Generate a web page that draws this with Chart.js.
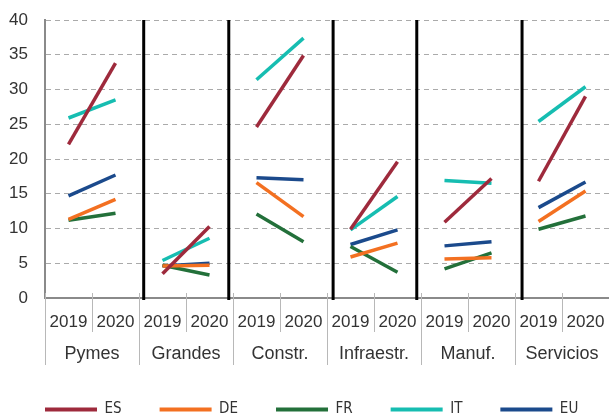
<!DOCTYPE html>
<html>
<head>
<meta charset="utf-8">
<script src="https://cdn.jsdelivr.net/npm/chart.js@4/dist/chart.umd.min.js"></script>
<style>
html,body{margin:0;padding:0;background:#fff;overflow:hidden;}
#wrap{position:relative;width:640px;height:427px;}
</style>
</head>
<body>
<div id="wrap"><canvas id="c"></canvas></div>
<script>
const groups = ['Pymes','Grandes','Constr.','Infraestr.','Manuf.','Servicios'];
const years = ['2019','2020'];
const yTicks = [0,5,10,15,20,25,30,35,40];
const seriesNames = ['ES','DE','FR','IT','EU'];
const ES = [22.1,33.8, 3.5,10.3, 24.6,34.9, 9.9,19.6, 10.9,17.2, 16.8,29.0];
const DE = [11.3,14.2, 4.6,4.7, 16.6,11.7, 5.9,7.9, 5.6,5.8, 11.0,15.4];
const FR = [11.2,12.2, 4.7,3.3, 12.1,8.1, 7.4,3.7, 4.2,6.5, 9.9,11.8];
const IT = [25.9,28.5, 5.4,8.6, 31.4,37.4, 9.8,14.6, 16.9,16.5, 25.4,30.4];
const EU = [14.7,17.7, 4.6,5.0, 17.3,17.0, 7.7,9.8, 7.5,8.1, 13.0,16.7];

const colors = ['#9e2a3c','#f37021','#23703a','#16bdb1','#1b4a8c'];
const seriesData = [ES, DE, FR, IT, EU];

const labels = [];
groups.forEach(() => years.forEach(y => labels.push(y)));

const datasets = seriesNames.map((n, i) => ({
  label: n,
  data: seriesData[i],
  borderColor: colors[i],
  backgroundColor: colors[i],
  borderWidth: 3.5,
  pointRadius: 0,
  pointHoverRadius: 0,
  tension: 0,
  segment: {
    borderColor: ctx => (ctx.p0DataIndex % 2 === 1 ? 'rgba(0,0,0,0)' : undefined)
  }
}));

const groupPlugin = {
  id: 'groupPlugin',
  afterDraw(chart) {
    const ctx = chart.ctx;
    const xs = chart.scales.x;
    const area = chart.chartArea;
    const b = area.bottom;
    const n = labels.length;
    ctx.save();
    ctx.strokeStyle = '#b8b8b8';
    ctx.lineWidth = 1;
    for (let i = -1; i < n; i++) {
      const x = Math.round(xs.getPixelForValue(i + 0.5)) + 0.5;
      const isGroup = (i + 1) % 2 === 0;
      ctx.beginPath();
      ctx.moveTo(x, b - 5);
      ctx.lineTo(x, isGroup ? b + 67 : b + 34);
      ctx.stroke();
    }
    ctx.fillStyle = '#333';
    ctx.font = '18px "Liberation Sans", Arial, sans-serif';
    ctx.textAlign = 'center';
    ctx.textBaseline = 'middle';
    groups.forEach((g, gi) => {
      const x = xs.getPixelForValue(gi * 2 + 0.5);
      ctx.fillText(g, x, b + 56);
    });
    const offs = [0.1, -0.09, 0.13, -0.09, 0.15];
    ctx.strokeStyle = '#000';
    ctx.lineWidth = 3;
    for (let g = 0; g < groups.length - 1; g++) {
      const x = xs.getPixelForValue(g * 2 + 1.5 + offs[g]);
      ctx.beginPath();
      ctx.moveTo(x, area.top);
      ctx.lineTo(x, b + 2);
      ctx.stroke();
    }
    ctx.restore();
  }
};

new Chart(document.getElementById('c'), {
  type: 'line',
  data: { labels, datasets },
  options: {
    responsive: true,
    maintainAspectRatio: false,
    animation: false,
    events: [],
    layout: { padding: { top: 20, left: 7, right: 0, bottom: 0 } },
    plugins: {
      tooltip: { enabled: false },
      legend: {
        display: true,
        position: 'bottom',
        align: 'start',
        labels: {
          boxWidth: 52,
          boxHeight: 4,
          padding: 38,
          color: '#333',
          font: { family: '"Liberation Sans Narrow", "DejaVu Sans Condensed", sans-serif', size: 15 },
          generateLabels(chart) {
            return chart.data.datasets.map((d, i) => ({
              text: d.label,
              fillStyle: d.borderColor,
              strokeStyle: d.borderColor,
              lineWidth: 0,
              hidden: false,
              datasetIndex: i,
              fontColor: '#333'
            }));
          }
        }
      }
    },
    scales: {
      x: {
        offset: true,
        grid: { display: true, drawOnChartArea: false, drawTicks: true, tickLength: 11, tickColor: 'rgba(0,0,0,0)', color: 'rgba(0,0,0,0)' },
        border: { display: true, color: '#8a8a8a', width: 2 },
        ticks: {
          color: '#333',
          font: { family: '"Liberation Sans", Arial, sans-serif', size: 17 },
          padding: 3,
          maxRotation: 0,
          autoSkip: false
        },
        afterFit(s) { s.height = 66; }
      },
      y: {
        min: 0,
        max: 40,
        afterBuildTicks(s) { s.ticks = yTicks.map(v => ({ value: v })); },
        grid: {
          color: '#aaaaaa',
          lineWidth: 1,
          drawTicks: true,
          tickLength: 14,
          tickColor: 'rgba(0,0,0,0)'
        },
        border: { display: true, color: '#8a8a8a', width: 2, dash: [5, 4] },
        ticks: {
          color: '#333',
          font: { family: '"Liberation Sans", Arial, sans-serif', size: 17 },
          padding: 3
        },
        afterFit(s) { s.width = 38; }
      },
      yRight: {
        position: 'right',
        display: true,
        min: 0,
        max: 40,
        grid: { display: false, drawTicks: false },
        border: { display: false },
        ticks: { display: false },
        afterFit(s) { s.width = 31; }
      }
    }
  },
  plugins: [groupPlugin]
});
</script>
</body>
</html>
